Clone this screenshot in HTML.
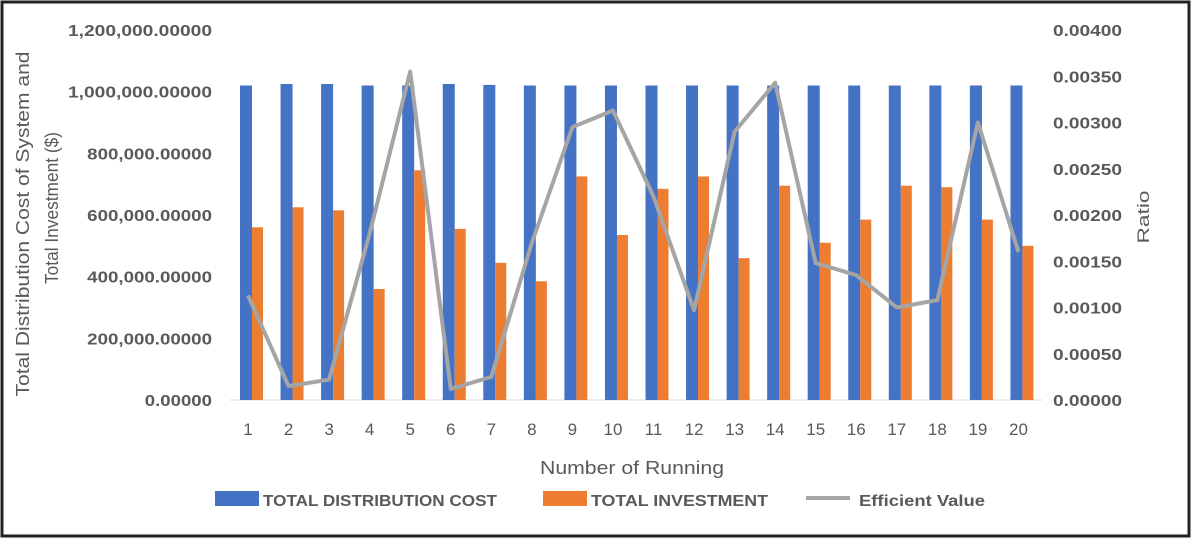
<!DOCTYPE html>
<html><head><meta charset="utf-8"><style>
html,body{margin:0;padding:0;background:#fff}
svg{display:block}
text{font-family:"Liberation Sans",sans-serif;fill:#595959}
</style></head><body>
<svg id="chart" width="1191" height="541">
<rect x="2" y="2" width="1187" height="534" fill="#fff" stroke="#222" stroke-width="3"/>
<g id="plot"></g>
<text x="632" y="474" font-size="18" text-anchor="middle" textLength="184" lengthAdjust="spacingAndGlyphs">Number of Running</text>
<text transform="translate(29,224) rotate(-90)" font-size="18" text-anchor="middle" textLength="345" lengthAdjust="spacingAndGlyphs">Total Distribution Cost  of System and</text>
<text transform="translate(58,208) rotate(-90)" font-size="18" text-anchor="middle" textLength="152" lengthAdjust="spacingAndGlyphs">Total Investment ($)</text>
<text transform="translate(1149,217) rotate(-90)" font-size="17" text-anchor="middle" textLength="53" lengthAdjust="spacingAndGlyphs">Ratio</text>
<g>
<g><rect x="215" y="491" width="44" height="15" fill="#4472C4"/><text x="263" y="506" font-size="16" font-weight="bold" textLength="234" lengthAdjust="spacingAndGlyphs">TOTAL DISTRIBUTION COST</text></g>
<g><rect x="543" y="491" width="44" height="15" fill="#ED7D31"/><text x="591" y="506" font-size="16" font-weight="bold" textLength="177" lengthAdjust="spacingAndGlyphs">TOTAL INVESTMENT</text></g>
<g><line x1="806" y1="498" x2="850" y2="498" stroke="#A5A5A5" stroke-width="4"/><text x="859" y="506" font-size="16" font-weight="bold" textLength="126" lengthAdjust="spacingAndGlyphs">Efficient Value</text></g>
</g>
</svg>
<script>
const categories=[1,2,3,4,5,6,7,8,9,10,11,12,13,14,15,16,17,18,19,20];
const distCost=[1020000,1025000,1025000,1020000,1020000,1025000,1022000,1020000,1020000,1020000,1020000,1020000,1020000,1020000,1020000,1020000,1020000,1020000,1020000,1020000];
const investment=[560000,625000,615000,360000,745000,555000,445000,385000,725000,535000,685000,725000,460000,695000,510000,585000,695000,690000,585000,500000];
const efficient=[0.00113,0.00015,0.00022,0.0018,0.00355,0.00012,0.00025,0.0017,0.00295,0.00313,0.0022,0.00097,0.0029,0.00343,0.00148,0.00135,0.001,0.00108,0.003,0.0016];
const leftTicks=[0,200000,400000,600000,800000,1000000,1200000];
const rightTicks=[0,0.0005,0.001,0.0015,0.002,0.0025,0.003,0.0035,0.004];
const NS="http://www.w3.org/2000/svg";
const g=document.getElementById('plot');
const y0=400,yTop=30;
const yL=v=>y0-(v/1200000)*(y0-yTop);
const yR=v=>y0-(v/0.004)*(y0-yTop);
const xC=i=>252+i*40.55;
function mk(t,a){const e=document.createElementNS(NS,t);for(const k in a)e.setAttribute(k,a[k]);g.appendChild(e);return e;}
const base=mk('line',{x1:230,y1:y0,x2:1042,y2:y0,stroke:'#d9d9d9'});


leftTicks.forEach(v=>{const s=v.toLocaleString('en-US',{minimumFractionDigits:5});const t=mk('text',{x:212,y:yL(v)+6,'font-size':16,'font-weight':'bold','text-anchor':'end',textLength:s.length*9.6,lengthAdjust:'spacingAndGlyphs'});t.textContent=s;

});
rightTicks.forEach(v=>{const t=mk('text',{x:1053,y:yR(v)+6,'font-size':16,'font-weight':'bold',textLength:69,lengthAdjust:'spacingAndGlyphs'});t.textContent=v.toFixed(5);

});
categories.forEach((c,i)=>{
const b=mk('rect',{x:xC(i)-12,y:yL(distCost[i]),width:12,height:y0-yL(distCost[i]),fill:'#4472C4'});


const o=mk('rect',{x:xC(i),y:yL(investment[i]),width:11,height:y0-yL(investment[i]),fill:'#ED7D31'});


const t=mk('text',{x:xC(i)-4,y:435,'font-size':17,'text-anchor':'middle'});t.textContent=c;


});
const pts=efficient.map((v,i)=>(xC(i)-4)+','+yR(v)).join(' ');
const pl=mk('polyline',{points:pts,fill:'none',stroke:'#A5A5A5','stroke-width':4,'stroke-linejoin':'round'});


</script>
</body></html>
